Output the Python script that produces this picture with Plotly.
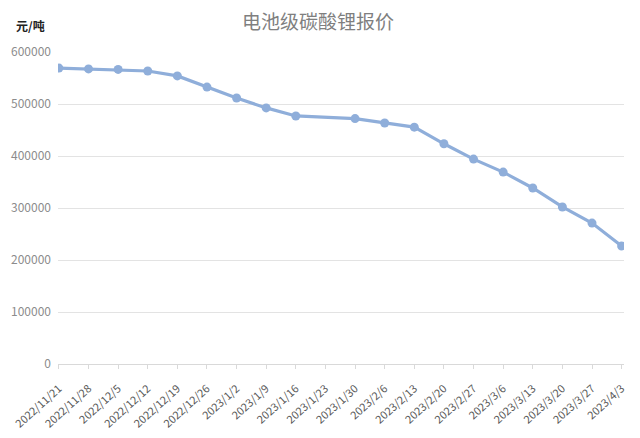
import plotly.graph_objects as go

dates = ["2022/11/21", "2022/11/28", "2022/12/5", "2022/12/12", "2022/12/19",
         "2022/12/26", "2023/1/2", "2023/1/9", "2023/1/16", "2023/1/23",
         "2023/1/30", "2023/2/6", "2023/2/13", "2023/2/20", "2023/2/27",
         "2023/3/6", "2023/3/13", "2023/3/20", "2023/3/27", "2023/4/3"]
prices = [569000, 567500, 566500, 563500, 554000,
          532500, 511500, 492500, 477000, None,
          472000, 463500, 455500, 423500, 394000,
          369000, 338500, 302000, 271000, 227000]
yticks = [0, 100000, 200000, 300000, 400000, 500000, 600000]

fig = go.Figure()
fig.add_trace(go.Scatter(
    x=dates, y=prices, mode="lines+markers", connectgaps=True,
    line=dict(color="#8FAEDA", width=3.2),
    marker=dict(color="#8FAEDA", size=9),
    showlegend=False,
))

fig.update_layout(
    width=632, height=430,
    margin=dict(l=50, r=16, t=44, b=74, autoexpand=False),
    paper_bgcolor="white", plot_bgcolor="white",
    font=dict(family="Noto Sans CJK SC, Noto Sans, sans-serif", color="#7f7f7f", size=11),
    title=dict(text="电池级碳酸锂报价", x=310 / 632, xref="container", y=1 - 14 / 430,
               yref="container", yanchor="middle", xanchor="center",
               font=dict(size=19, color="#7f7f7f")),
    annotations=[dict(text="<b>元/吨</b>", xref="paper", yref="paper",
                      x=-28 / 566, y=1 + 27 / 312, xanchor="center", yanchor="middle",
                      showarrow=False, font=dict(size=12, color="#222222"))],
)

fig.update_xaxes(
    type="category", tickangle=-42, range=[-0.03, 19.08], automargin=False,
    showgrid=False, showline=True, linecolor="#d9d9d9", linewidth=1,
    ticks="outside", ticklen=4, tickcolor="#d9d9d9",
    tickfont=dict(size=11, color="#595959"), ticklabelstandoff=9,
)
fig.update_yaxes(
    range=[0, 600000], tickvals=yticks, ticktext=[str(v) for v in yticks],
    automargin=False,
    showgrid=True, gridcolor="#e3e3e3", gridwidth=1,
    zeroline=False, showline=False,
    tickfont=dict(size=12, color="#8c8c8c"), ticklabelstandoff=6,
)

fig.write_html("out.html")
